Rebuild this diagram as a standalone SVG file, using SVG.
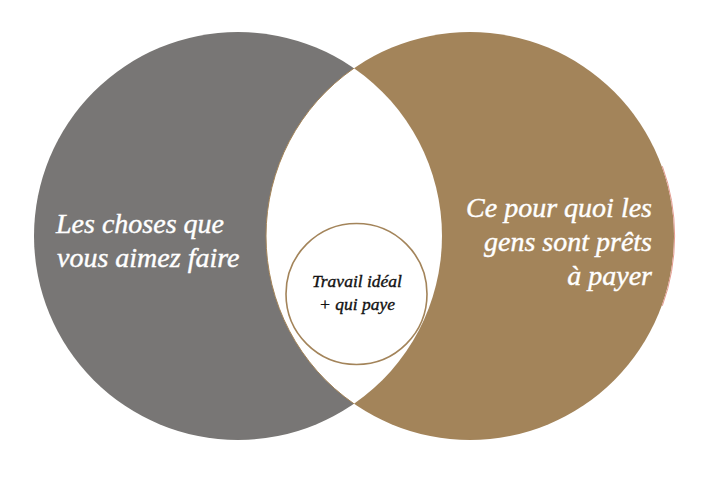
<svg xmlns="http://www.w3.org/2000/svg" width="708" height="479" viewBox="0 0 708 479">
  <style>
    .big { font-family: "Liberation Serif", "Times New Roman", serif; font-style: italic; font-size: 28px; fill: #ffffff; stroke: #ffffff; stroke-width: 0.4px; }
    .small { font-family: "Liberation Serif", "Times New Roman", serif; font-style: italic; font-size: 17.5px; fill: #111111; stroke: #111111; stroke-width: 0.35px; text-anchor: middle; }
  </style>
  <defs>
    <filter id="soft" x="-5%" y="-5%" width="110%" height="110%">
      <feGaussianBlur stdDeviation="0.6"/>
    </filter>
  </defs>
  <rect width="708" height="479" fill="#ffffff"/>
  <g id="left-circle">
    <circle cx="238" cy="236" r="204" fill="#787674" filter="url(#soft)"/>
    <text class="big" x="56" y="233">Les choses que</text>
    <text class="big" x="57" y="267">vous aimez faire</text>
  </g>
  <g id="right-circle">
    <circle cx="470" cy="236" r="204" fill="#A3845A"/>
    <path d="M662.3,166.2 A204,204 0 0 1 662.3,305.8" fill="none" stroke="#E39A8E" stroke-width="1"/>
    <text class="big" x="652" y="217" text-anchor="end">Ce pour quoi les</text>
    <text class="big" x="652" y="251" text-anchor="end">gens sont prêts</text>
    <text class="big" x="652" y="285" text-anchor="end">à payer</text>
  </g>
  <g id="overlap">
    <path d="M354,68.2 A204,204 0 0 0 354,403.8 A204,204 0 0 0 354,68.2 Z" fill="#ffffff" filter="url(#soft)"/>
    <path d="M354,68.2 A204,204 0 0 0 354,403.8" fill="none" stroke="#A3845A" stroke-width="1"/>
  </g>
  <g id="center-node">
    <circle cx="356.5" cy="294" r="70.5" fill="#ffffff" stroke="#A3845A" stroke-width="1.6"/>
    <text class="small" x="357" y="287">Travail idéal</text>
    <text class="small" x="357" y="310">+ qui paye</text>
  </g>
  <g id="connectors"></g>
</svg>
